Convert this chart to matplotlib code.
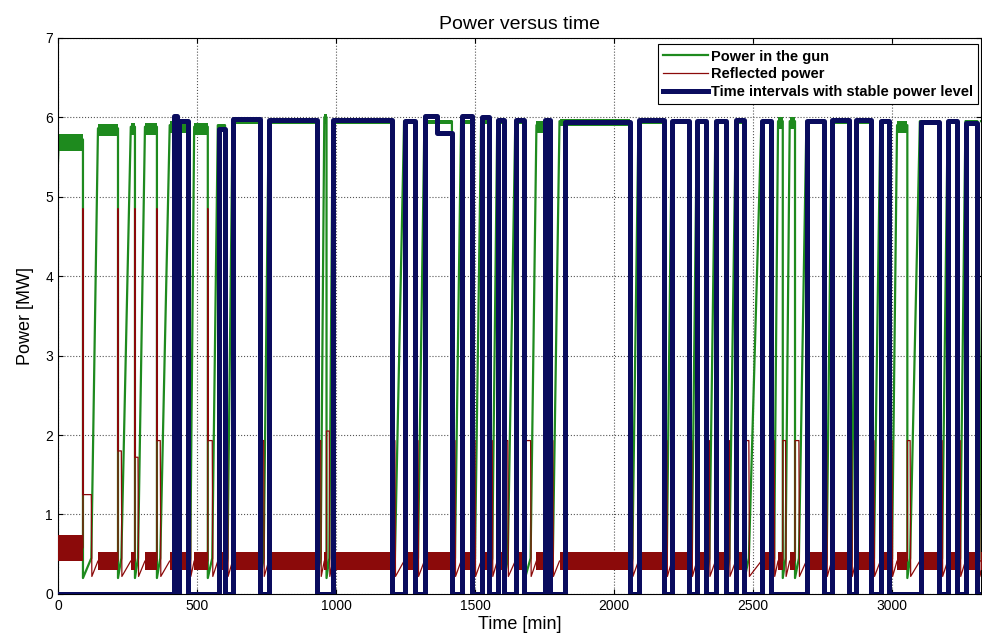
import matplotlib.pyplot as plt

# time intervals with stable power level [min] and their level [MW]
stable_start = [418, 434, 578, 628, 760, 990, 1247, 1320, 1362, 1452,
                1527, 1581, 1649, 1750, 1823, 2091, 2210, 2300, 2368, 2440,
                2533, 2695, 2785, 2871, 2961, 3105, 3202, 3266]
stable_end = [430, 467, 600, 727, 930, 1203, 1283, 1362, 1416, 1488,
              1552, 1606, 1678, 1768, 2057, 2181, 2271, 2332, 2404, 2469,
              2566, 2756, 2846, 2925, 2990, 3169, 3234, 3306]
stable_level = [6.02, 5.95, 5.85, 5.98, 5.97, 5.97, 5.95, 6.02, 5.8, 6.02,
                6.0, 5.97, 5.97, 5.97, 5.94, 5.97, 5.95, 5.95, 5.95, 5.97,
                5.95, 5.95, 5.97, 5.97, 5.95, 5.94, 5.95, 5.93]

# gun trips: drop time, start of ramp-up, end of ramp-up [min]
trip_t = [90, 216, 277, 356, 468, 539, 601, 728, 932, 966,
          1204, 1284, 1417, 1489, 1553, 1607, 1680, 1769, 2058, 2182,
          2272, 2333, 2405, 2470, 2567, 2607, 2651, 2757, 2847, 2926,
          2991, 3055, 3170, 3235, 3307]
rise_start = [120, 228, 288, 368, 476, 555, 610, 740, 945, 976,
              1212, 1295, 1428, 1500, 1562, 1618, 1700, 1780, 2066, 2190,
              2280, 2343, 2415, 2485, 2576, 2617, 2665, 2765, 2855, 2935,
              3000, 3065, 3180, 3245, 3314]
rise_end = [144, 262, 313, 402, 490, 575, 628, 758, 958, 988,
            1245, 1318, 1450, 1522, 1580, 1645, 1721, 1804, 2088, 2208,
            2298, 2365, 2438, 2530, 2590, 2632, 2692, 2783, 2870, 2958,
            3018, 3100, 3200, 3264, 3330]
# gun power reached after each ramp (first value: before the first trip)
gun_level = [5.72, 5.86, 5.88, 5.88, 5.9, 5.88, 5.9, 5.95, 5.95, 6.0,
             5.95, 5.95, 5.95, 5.95, 5.95, 5.95, 5.95, 5.9, 5.95, 5.95,
             5.95, 5.95, 5.95, 5.95, 5.95, 5.95, 5.95, 5.95, 5.95, 5.95,
             5.95, 5.9, 5.95, 5.95, 5.95, 5.95]
# ripple of the gun power on each flat part
gun_ripple = [0.14, 0.1, 0.1, 0.1, 0.1, 0.1, 0.03, 0.03, 0.03, 0.08,
              0.03, 0.03, 0.03, 0.03, 0.03, 0.03, 0.03, 0.1, 0.06, 0.03,
              0.03, 0.03, 0.03, 0.03, 0.03, 0.1, 0.1, 0.03, 0.03, 0.03,
              0.03, 0.1, 0.03, 0.03, 0.03, 0.03]
gun_off = (0.2, 0.45)

# reflected power while the gun is off, and spike at the trip
refl_hold = [1.25, 1.8, 1.72, 1.93, 1.93, 1.93, 1.93, 1.93, 1.93, 2.05,
             1.93, 1.93, 1.93, 1.93, 1.93, 1.93, 1.93, 1.93, 1.93, 1.93,
             1.93, 1.93, 1.93, 1.93, 1.93, 1.93, 1.93, 1.93, 1.93, 1.93,
             1.93, 1.93, 1.93, 1.93, 1.93]
refl_peak = [4.85, 4.85, 4.85, 4.85, 0, 4.85, 0, 0, 0, 0,
             0, 0, 0, 0, 0, 0, 0, 0, 0, 0,
             0, 0, 0, 0, 0, 0, 0, 0, 0, 0,
             0, 0, 0, 0, 0]
refl_band_first = (0.42, 0.74)
refl_band = (0.3, 0.53)

x_max = 3320

c_gun = '#1e8a1e'
c_refl = '#8b0a0a'
c_stab = '#0a0c5e'

fig = plt.figure(figsize=(9.82, 6.4), dpi=100)
ax = fig.add_axes([0.059, 0.072, 0.94, 0.869])

# power in the gun
gx, gy = [0, 3], [gun_level[0] - 0.3, gun_level[0]]
prev = 3
for i, t in enumerate(trip_t):
    ax.fill_between([prev, t], gun_level[i] - gun_ripple[i],
                    gun_level[i] + gun_ripple[i] * 0.5,
                    color=c_gun, lw=0, zorder=2)
    gx += [t, t, rise_start[i], rise_end[i]]
    gy += [gun_level[i], gun_off[0], gun_off[1], gun_level[i + 1]]
    prev = rise_end[i]
gx.append(x_max)
gy.append(gun_level[-1])
ax.plot(gx, gy, color=c_gun, lw=1.6, zorder=2, label='Power in the gun')

# reflected power
rx, ry = [0], [sum(refl_band_first) / 2]
prev = 0
for i, t in enumerate(trip_t):
    lo, hi = refl_band_first if i == 0 else refl_band
    base = (lo + hi) / 2
    ax.fill_between([prev, t], lo, hi, color=c_refl, lw=0, zorder=3)
    rx += [t, t]
    ry += [base, refl_peak[i] if refl_peak[i] else refl_hold[i]]
    if refl_peak[i]:
        rx.append(t + 1)
        ry.append(refl_hold[i])
    rx += [rise_start[i], rise_start[i] + 2, rise_end[i]]
    ry += [refl_hold[i], 0.22, sum(refl_band) / 2]
    prev = rise_end[i]
ax.fill_between([prev, x_max], refl_band[0], refl_band[1], color=c_refl, lw=0,
                zorder=3)
rx.append(x_max)
ry.append(sum(refl_band) / 2)
ax.plot(rx, ry, color=c_refl, lw=0.9, zorder=3, label='Reflected power')

# stable intervals as a 0 / level step curve
sx, sy = [0], [0]
for i, (s, e) in enumerate(zip(stable_start, stable_end)):
    joined_prev = i > 0 and stable_end[i - 1] == s
    joined_next = i + 1 < len(stable_start) and stable_start[i + 1] == e
    if not joined_prev:
        sx += [s, s]
        sy += [0, stable_level[i]]
    else:
        sx.append(s)
        sy.append(stable_level[i])
    sx.append(e)
    sy.append(stable_level[i])
    if not joined_next:
        sx.append(e)
        sy.append(0)
sx.append(x_max)
sy.append(0)
ax.plot(sx, sy, color=c_stab, lw=3.6, zorder=4,
        label='Time intervals with stable power level')

ax.set_xlim(0, x_max)
ax.set_ylim(0, 7)
ax.set_xticks([0, 500, 1000, 1500, 2000, 2500, 3000])
ax.set_yticks(range(8))
ax.grid(True, linestyle=':', color='#555555', lw=0.8)
ax.tick_params(direction='in', top=True, right=True, labelsize=10)
for lab in ax.get_xticklabels() + ax.get_yticklabels():
    lab.set_family('Liberation Sans')

ax.set_title('Power versus time', fontsize=14, family='Liberation Sans', pad=6)
ax.set_xlabel('Time [min]', fontsize=13, family='Liberation Sans', labelpad=2)
ax.set_ylabel('Power [MW]', fontsize=13, family='Liberation Sans', labelpad=8)

leg = ax.legend(loc='upper right', bbox_to_anchor=(0.997, 0.988), fancybox=False,
                edgecolor='black', framealpha=1, borderaxespad=0,
                prop={'family': 'Liberation Sans', 'weight': 'bold', 'size': 10.5},
                handlelength=3.1, labelspacing=0.25, handletextpad=0.2,
                borderpad=0.35)
leg.get_frame().set_linewidth(0.8)
leg.set_zorder(10)

fig.savefig('out.png', dpi=100)
